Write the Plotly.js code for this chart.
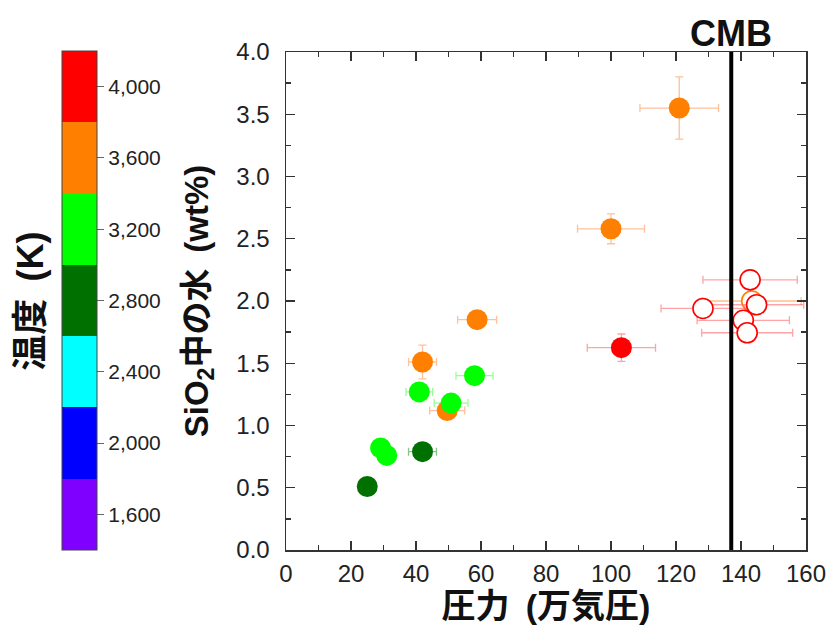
<!DOCTYPE html>
<html><head><meta charset="utf-8">
<script src="https://cdn.plot.ly/plotly-3.0.1.min.js"></script>
<style>html,body{margin:0;padding:0;background:#fff}#chart{width:833px;height:642px}</style>
</head><body><div id="chart"></div>
<script>
// Temperature bins (K) and colors
const binEdges = [1400, 1800, 2200, 2600, 3000, 3400, 3800, 4200];
const binColors = ['#8000FF', '#0000FF', '#00FFFF', '#007000', '#00FF00', '#FF8000', '#FF0000'];
const cbTicks = [1600, 2000, 2400, 2800, 3200, 3600, 4000];

// Orange (filled)
const orangeP = [121, 100, 58.8, 42, 49.6];
const orangeW = [3.55, 2.58, 1.85, 1.51, 1.12];
const orangePErr = [12.1, 10.3, 6.0, 4.3, 5.4];
const orangeWErr = [0.25, 0.12, null, 0.135, null];
const orangeT = [3650, 3550, 3600, 3500, 3700];

// Bright green (filled)
const greenP = [58, 41, 50.8, 29.1, 31];
const greenW = [1.40, 1.27, 1.18, 0.82, 0.76];
const greenPErr = [5.7, 4.1, 5.2, null, null];
const greenT = [3200, 3300, 3100, 3250, 3150];

// Dark green (filled)
const dgreenP = [42, 25];
const dgreenW = [0.79, 0.51];
const dgreenPErr = [4.3, null];
const dgreenT = [2900, 2700];

// Red (filled)
const redP = [103.2];
const redW = [1.625];
const redPErr = [10.5];
const redWErr = [0.11];
const redT = [4000];

// Open orange
const oorangeP = [143.3];
const oorangeW = [2.0];
const oorangePErr = [15.2];
const oorangeT = [3700];

// Open red
const oredP = [128.3, 142.8, 144.8, 140.7, 141.9];
const oredW = [1.94, 2.17, 1.97, 1.845, 1.745];
const oredPErr = [12.9, 14.5, 14.5, 14.2, 14.0];
const oredT = [4000, 4100, 3900, 4000, 3950];

const cmbP = 137;

const xTicks = [0, 20, 40, 60, 80, 100, 120, 140, 160];
const yTicks = [0, 0.5, 1, 1.5, 2, 2.5, 3, 3.5, 4];

function colorFor(t) {
  for (let i = 0; i < binColors.length; i++) {
    if (t >= binEdges[i] && t < binEdges[i + 1]) return binColors[i];
  }
  return binColors[binColors.length - 1];
}
const cscale = [];
binColors.forEach((c, i) => {
  cscale.push([i / binColors.length, c]);
  cscale.push([(i + 1) / binColors.length, c]);
});

function filled(x, y, ex, ey, t, errColor) {
  return {
    type: 'scatter', mode: 'markers', x: x, y: y,
    error_x: {type: 'data', array: ex, visible: true, color: errColor, thickness: 1.3, width: 4},
    error_y: ey ? {type: 'data', array: ey, visible: true, color: errColor, thickness: 1.3, width: 4} : {visible: false},
    marker: {size: 21, color: t, coloraxis: 'coloraxis', line: {width: 0}},
    showlegend: false, hoverinfo: 'x+y'
  };
}
function open(x, y, ex, t, errColor) {
  return {
    type: 'scatter', mode: 'markers', x: x, y: y,
    error_x: {type: 'data', array: ex, visible: true, color: errColor, thickness: 1.3, width: 4},
    marker: {size: 20, color: 'white', line: {width: 1.6, color: t.map(colorFor)}},
    showlegend: false, hoverinfo: 'x+y'
  };
}

const data = [
  open(oorangeP, oorangeW, oorangePErr, oorangeT, 'rgba(255,150,60,0.6)'),
  open(oredP, oredW, oredPErr, oredT, 'rgba(255,90,90,0.55)'),
  filled(orangeP, orangeW, orangePErr, orangeWErr, orangeT, 'rgba(255,150,90,0.6)'),
  filled(redP, redW, redPErr, redWErr, redT, 'rgba(255,90,90,0.55)'),
  filled(dgreenP, dgreenW, dgreenPErr, null, dgreenT, 'rgba(60,150,60,0.6)'),
  filled(greenP, greenW, greenPErr, null, greenT, 'rgba(80,255,80,0.6)')
];

const axisFont = {family: 'Liberation Sans, Arial, sans-serif', size: 24, color: '#222'};
const titleFont = {family: 'Liberation Sans, Noto Sans CJK JP, sans-serif', size: 33, color: '#111', weight: 'bold'};

const layout = {
  width: 833, height: 642,
  margin: {l: 286, r: 27, t: 52, b: 92},
  paper_bgcolor: '#fff', plot_bgcolor: '#fff',
  xaxis: {
    range: [0, 160], tickvals: xTicks, ticktext: xTicks.map(String),
    ticks: 'inside', ticklen: 9, tickwidth: 1.3, tickcolor: '#333',
    minor: {ticks: 'inside', ticklen: 5, dtick: 10, tickwidth: 1.3, tickcolor: '#333'},
    showline: true, linecolor: '#333', linewidth: 1.5, mirror: 'ticks',
    showgrid: false, zeroline: false, tickfont: axisFont, ticklabelstandoff: 2,
    title: {text: '圧力 \u2009(万気圧)', font: Object.assign({}, titleFont, {size: 34}), standoff: 8}
  },
  yaxis: {
    range: [0, 4], tickvals: yTicks, ticktext: yTicks.map(v => v.toFixed(1)),
    ticks: 'inside', ticklen: 9, tickwidth: 1.3, tickcolor: '#333',
    minor: {ticks: 'inside', ticklen: 5, dtick: 0.25, tickwidth: 1.3, tickcolor: '#333'},
    showline: true, linecolor: '#333', linewidth: 1.5, mirror: 'ticks',
    showgrid: false, zeroline: false, tickfont: axisFont, ticklabelstandoff: 10,
    title: {text: 'SiO<sub>2</sub>中の水 \u2009(wt%)', font: titleFont, standoff: 18}
  },
  coloraxis: {
    cmin: 1400, cmax: 4200, colorscale: cscale, showscale: true,
    colorbar: {
      x: -0.431, xanchor: 'left', xref: 'paper', xpad: 0,
      y: 1.002, yanchor: 'top', ypad: 0,
      len: 499, lenmode: 'pixels', thickness: 35, thicknessmode: 'pixels',
      outlinewidth: 1, outlinecolor: '#444',
      tickvals: cbTicks, ticktext: cbTicks.map(v => v.toLocaleString('en-US')),
      ticks: 'outside', ticklen: 7, tickcolor: '#666', tickwidth: 1,
      tickfont: {family: 'Liberation Sans, Arial, sans-serif', size: 21, color: '#222'},
      ticklabelstandoff: 8
    }
  },
  shapes: [{
    type: 'line', xref: 'x', yref: 'paper', x0: cmbP, x1: cmbP, y0: 0, y1: 1,
    line: {color: '#000', width: 4}, layer: 'above'
  }],
  annotations: [
    {text: 'CMB', xref: 'x', yref: 'paper', x: cmbP, y: 1.038, xanchor: 'center', yanchor: 'middle',
     showarrow: false, font: {family: 'Liberation Sans, Arial, sans-serif', size: 36, color: '#111', weight: 'bold'}},
    {text: '温度 \u2009(K)', xref: 'paper', yref: 'paper', x: -0.493, y: 0.5, xanchor: 'center', yanchor: 'middle',
     textangle: -90, showarrow: false, font: Object.assign({}, titleFont, {size: 36})}
  ]
};

Plotly.newPlot('chart', data, layout, {displayModeBar: false, staticPlot: true});
</script>
</body></html>
